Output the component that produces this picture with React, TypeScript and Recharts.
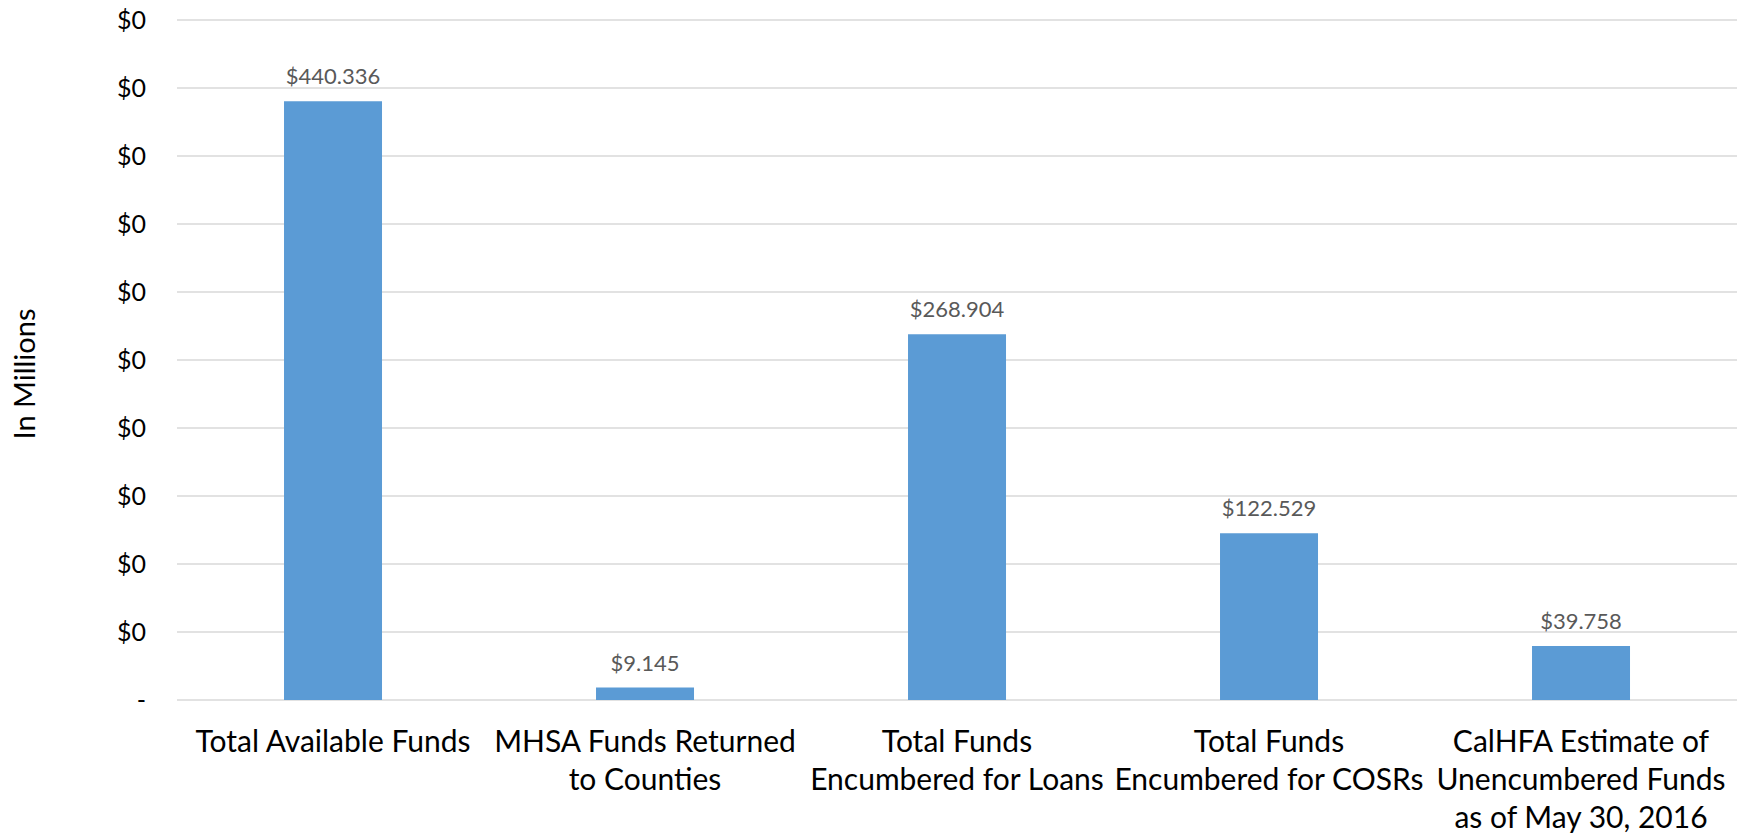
import React from 'react';
import { BarChart, Bar, XAxis, YAxis, CartesianGrid, LabelList, Label } from 'recharts';

const categories = [
  'Total Available Funds',
  'MHSA Funds Returned\nto Counties',
  'Total Funds\nEncumbered for Loans',
  'Total Funds\nEncumbered for COSRs',
  'CalHFA Estimate of\nUnencumbered Funds\nas of May 30, 2016',
];
const values = [440.336, 9.145, 268.904, 122.529, 39.758];
const valueLabels = ['$440.336', '$9.145', '$268.904', '$122.529', '$39.758'];
const yTicks = [0, 50, 100, 150, 200, 250, 300, 350, 400, 450, 500];
const yTickLabels = ['-', '$0', '$0', '$0', '$0', '$0', '$0', '$0', '$0', '$0', '$0'];
const yAxisTitle = 'In Millions';

const data = categories.map((name, i) => ({ name, value: values[i], label: valueLabels[i] }));

const FONT = 'Lato, "Open Sans", sans-serif';

const XTick = (props: any) => {
  const { x, y, payload } = props;
  const lines = String(payload.value).split('\n');
  return (
    <text x={x} y={y} textAnchor="middle" fill="#000000" fontSize={30} fontFamily={FONT}>
      {lines.map((l: string, i: number) => (
        <tspan key={i} x={x} dy={i === 0 ? 52 : 38}>
          {l}
        </tspan>
      ))}
    </text>
  );
};

const YTitle = (props: any) => {
  const { viewBox } = props;
  const cy = viewBox.y + viewBox.height / 2 + 14;
  const cx = 23;
  return (
    <text
      x={cx}
      y={cy}
      transform={`rotate(-90, ${cx}, ${cy})`}
      textAnchor="middle"
      dominantBaseline="central"
      fontSize={29}
      fontFamily={FONT}
      fill="#000000"
    >
      {yAxisTitle}
    </text>
  );
};

export default function App() {
  return (
    <div style={{ position: 'absolute', left: 0, top: 0, width: 1737, height: 836, background: '#ffffff' }}>
      <BarChart
        width={1737}
        height={836}
        data={data}
        margin={{ top: 20, right: 0, bottom: 0, left: 0 }}
        barCategoryGap="34.3%"
      >
        <CartesianGrid horizontal vertical={false} stroke="#D9D9D9" strokeWidth={1.6} />
        <XAxis
          dataKey="name"
          height={136}
          axisLine={false}
          tickLine={false}
          tickSize={0}
          tickMargin={0}
          interval={0}
          tick={<XTick />}
        />
        <YAxis
          width={177}
          domain={[0, 500]}
          ticks={yTicks}
          axisLine={false}
          tickLine={false}
          tickSize={0}
          tickMargin={31}
          tick={{ fontSize: 25, fontFamily: FONT, fill: '#000000' }}
          tickFormatter={(v: number, i: number) => yTickLabels[i]}
        >
          <Label content={<YTitle />} />
        </YAxis>
        <Bar dataKey="value" fill="#5B9BD5" isAnimationActive={false}>
          <LabelList dataKey="label" position="top" offset={17} fill="#595959" fontSize={22} fontFamily={FONT} />
        </Bar>
      </BarChart>
    </div>
  );
}
